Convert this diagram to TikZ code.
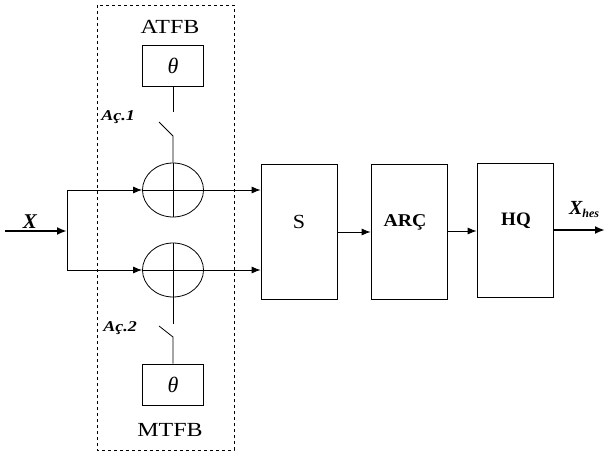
\documentclass[tikz,border=0pt]{standalone}
\usepackage{fontspec}
\setmainfont{Liberation Serif}
\usepackage{amsmath}
\usepackage{graphicx}
\usetikzlibrary{arrows.meta,shapes.geometric}

\begin{document}
\begin{tikzpicture}[x=1pt,y=-1pt,
    blk/.style={draw,line width=0.8pt,minimum width=76pt,minimum height=135pt,inner sep=0pt},
    thbox/.style={draw,line width=0.8pt,minimum width=61pt,minimum height=41pt,inner sep=0pt,
      font=\fontsize{22}{22}\selectfont\itshape},
    sum/.style={draw,ellipse,line width=0.8pt,minimum width=61pt,minimum height=54pt,inner sep=0pt},
    arr/.style={-{Latex[length=9pt,width=7pt]},line width=0.8pt},
    thickarr/.style={-{Latex[length=10pt,width=8pt]},line width=2pt},
    lbl/.style={font=\fontsize{20}{20}\selectfont},
    swlbl/.style={font=\fontsize{15}{15}\selectfont\bfseries\itshape}]

    \useasboundingbox (0,0) rectangle (605,452);

    % Draw the dashed frame
    \draw[dashed,line width=0.7pt] (97,5) rectangle (234,450);
    \node[lbl] (atfb) at (170,27) {\scalebox{1.2}[1]{ATFB}};
    \node[lbl] (mtfb) at (170,430) {\scalebox{1.2}[1]{MTFB}};

    % Threshold boxes and summing junctions
    \node[thbox] (thA) at (173,65.5) {θ};
    \node[thbox] (thM) at (173,384.5) {θ};
    \node[sum] (sumA) at (173,190) {};
    \node[sum] (sumM) at (173,270) {};
    \foreach \s in {sumA,sumM} {
        \draw[line width=0.8pt] (\s.north) -- (\s.south);
        \draw[line width=0.8pt] (\s.west) -- (\s.east);
    }

    % Switches
    \coordinate (tA) at (173,112);
    \coordinate (swA1) at (159,122);
    \coordinate (swA2) at (173,136);
    \draw[line width=0.8pt] (thA.south) -- (tA);
    \draw[line width=0.8pt] (swA1) -- (swA2) -- (sumA.north);
    \node[swlbl] (acA) at (118,117) {\scalebox{1.2}[1]{Aç.1}};

    \coordinate (tM) at (173,324);
    \coordinate (swM1) at (159,326);
    \coordinate (swM2) at (173,337);
    \draw[line width=0.8pt] (sumM.south) -- (tM);
    \draw[line width=0.8pt] (swM1) -- (swM2) -- (thM.north);
    \node[swlbl] (acM) at (120,328) {\scalebox{1.2}[1]{Aç.2}};

    % Blocks
    \node[blk] (S) at (299,231.5) {};
    \node[blk] (ARC) at (409,231.5) {};
    \node[blk,minimum height=134pt] (HQ) at (515,230) {};
    \node[lbl] (Stxt) at (299,222) {\scalebox{1.1}[1]{S}};
    \node[font=\fontsize{18}{18}\selectfont\bfseries] (ARCtxt) at (405,222) {\scalebox{1.1}[1]{ARÇ}};
    \node[font=\fontsize{19}{19}\selectfont\bfseries] (HQtxt) at (516,221) {HQ};

    % Input
    \coordinate (in) at (5,231);
    \coordinate (split) at (67,231);
    \node[font=\fontsize{21}{21}\selectfont\bfseries\itshape] (X) at (30,222) {X};
    \draw[thickarr] (in) -- (split);
    \draw[line width=0.8pt] (split |- sumA.west) -- (split |- sumM.west);
    \draw[arr] (split |- sumA.west) -- (sumA.west);
    \draw[arr] (split |- sumM.west) -- (sumM.west);

    % Connections
    \draw[arr] (sumA.east) -- (S.west |- sumA.east);
    \draw[arr] (sumM.east) -- (S.west |- sumM.east);
    \draw[arr] (S.east |- 0,232) -- (ARC.west |- 0,232);
    \draw[arr] (ARC.east |- 0,231) -- (HQ.west |- 0,231);

    % Output
    \coordinate (out) at (605,230);
    \draw[thickarr] (HQ.east |- out) -- (out);
    \node[font=\fontsize{20}{20}\selectfont\bfseries\itshape] (Xh) at (584,210)
        {X\raisebox{-3pt}{\fontsize{12}{12}\selectfont hes}};
\end{tikzpicture}
\end{document}
